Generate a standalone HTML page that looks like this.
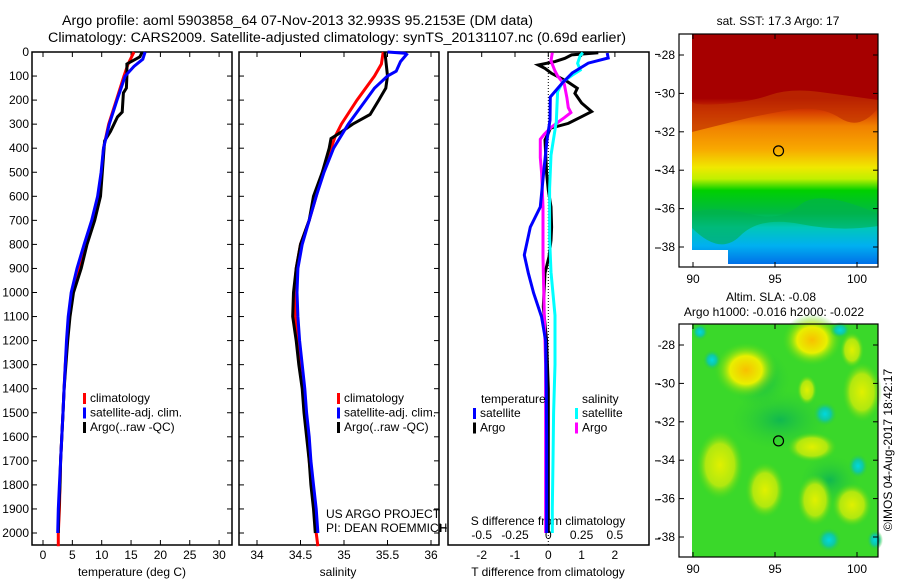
<!DOCTYPE html>
<html><head><meta charset="utf-8">
<style>
body{margin:0;background:#fff;}
svg{display:block;font-family:"Liberation Sans",sans-serif;}
text{font-size:12px;fill:#000;}
</style></head>
<body>
<svg id="chart" width="900" height="580" viewBox="0 0 900 580" xmlns="http://www.w3.org/2000/svg">
<defs>
<linearGradient id="sstGrad" x1="0" y1="34" x2="0" y2="264" gradientUnits="userSpaceOnUse">
<stop offset="0" stop-color="#a60000"/>
<stop offset="0.28" stop-color="#a60000"/>
<stop offset="0.34" stop-color="#d84000"/>
<stop offset="0.40" stop-color="#f08000"/>
<stop offset="0.50" stop-color="#f8a800"/>
<stop offset="0.58" stop-color="#f0e800"/>
<stop offset="0.63" stop-color="#c0f000"/>
<stop offset="0.68" stop-color="#00d000"/>
<stop offset="0.78" stop-color="#00b848"/>
<stop offset="0.84" stop-color="#00c8b8"/>
<stop offset="0.92" stop-color="#00b0f0"/>
<stop offset="1" stop-color="#0070e8"/>
</linearGradient>
<radialGradient id="yel"><stop offset="0" stop-color="#f8c000"/><stop offset="0.5" stop-color="#e8f000"/><stop offset="1" stop-color="#40d820" stop-opacity="0"/></radialGradient>
<radialGradient id="yel2"><stop offset="0" stop-color="#e0f000"/><stop offset="0.6" stop-color="#b0e810"/><stop offset="1" stop-color="#40d820" stop-opacity="0"/></radialGradient>
<radialGradient id="cy"><stop offset="0" stop-color="#00d8e0"/><stop offset="0.5" stop-color="#10c8a0"/><stop offset="1" stop-color="#30d030" stop-opacity="0"/></radialGradient>
<radialGradient id="dg"><stop offset="0" stop-color="#10b850"/><stop offset="1" stop-color="#30d030" stop-opacity="0"/></radialGradient>
</defs>
<g id="titles">
<text x="62" y="25" textLength="471" lengthAdjust="spacingAndGlyphs" style="font-size:13.5px">Argo profile: aoml 5903858_64 07-Nov-2013 32.993S 95.2153E (DM data)</text>
<text x="48" y="42" textLength="578" lengthAdjust="spacingAndGlyphs" style="font-size:13.5px">Climatology: CARS2009. Satellite-adjusted climatology: synTS_20131107.nc (0.69d earlier)</text>
</g>
<g id="p1"></g>
<g id="p2"></g>
<g id="p3"></g>
<g id="m1"></g>
<g id="m2"></g>
<text transform="translate(892,450) rotate(-90)" text-anchor="middle">©IMOS 04-Aug-2017 18:42:17</text>
</svg>
<script>
// ---------- data ----------
const depthTicks = [0,100,200,300,400,500,600,700,800,900,1000,1100,1200,1300,1400,1500,1600,1700,1800,1900,2000];
const tempTicks = [0,5,10,15,20,25,30];
const salTicks = [34,34.5,35,35.5,36];
const tdiffTicks = [-2,-1,0,1,2];
const sdiffTicks = [-0.5,-0.25,0,0.25,0.5];
const sdiffLabels = ["-0.5","-0.25","0","0.25","0.5"];

const tClimDepth = [0,50,100,200,300,400,500,600,700,800,900,1000,1100,1200,1300,1400,1500,1600,1700,1800,1900,2000,2055];
const tClim = [15.5,14.5,13.8,12.5,11.2,10.3,10.0,9.6,8.5,7.2,6.2,5.0,4.5,4.1,3.8,3.6,3.4,3.2,3.0,2.9,2.8,2.6,2.6];
const tSatDepth = [0,30,60,100,200,300,400,500,600,700,800,900,1000,1100,1200,1300,1400,1500,1600,1700,1800,1900,2000];
const tSat = [17.4,17.0,15.5,14.0,12.6,11.3,10.3,9.9,9.3,8.3,7.0,5.8,4.8,4.3,4.0,3.8,3.6,3.4,3.2,3.0,2.8,2.6,2.5];
const tArgoDepth = [0,20,50,100,150,170,250,270,330,370,500,600,700,800,900,1000,1100,1200,1300,1400,1500,1600,1700,1800,1900,2000];
const tArgo = [16.9,16.5,14.3,14.3,14.2,13.7,13.5,12.7,11.5,10.5,10.1,9.8,8.8,7.5,6.5,5.2,4.6,4.2,3.9,3.6,3.4,3.2,3.0,2.9,2.7,2.6];

const sClimDepth = [0,50,100,200,300,350,400,500,600,700,800,900,1000,1100,1200,1300,1400,1500,1600,1700,1800,1900,2000,2055];
const sClim = [35.45,35.43,35.35,35.15,34.97,34.9,34.85,34.75,34.68,34.6,34.5,34.45,34.43,34.44,34.47,34.5,34.53,34.55,34.58,34.6,34.63,34.66,34.68,34.7];
const sSatDepth = [0,5,10,40,80,100,150,200,300,400,500,600,700,800,900,1000,1100,1200,1300,1400,1500,1600,1700,1800,1900,2000];
const sSat = [35.5,35.7,35.72,35.65,35.6,35.5,35.35,35.25,35.05,34.88,34.77,34.68,34.6,34.52,34.47,34.46,34.47,34.49,34.52,34.55,34.57,34.6,34.62,34.65,34.68,34.7];
const sArgoDepth = [0,100,150,200,260,300,330,360,400,500,600,700,800,900,1000,1100,1200,1300,1400,1500,1600,1700,1800,1900,2000];
const sArgo = [35.47,35.5,35.48,35.4,35.3,35.1,34.98,34.85,34.83,34.75,34.65,34.6,34.5,34.45,34.42,34.41,34.45,34.48,34.52,34.54,34.57,34.6,34.62,34.65,34.67];

const dTSatDepth = [4,25,46,87,129,187,283,366,503,644,728,844,919,1002,1102,1200,1400,1600,1800,2000];
const dTSat = [1.77,1.8,1.2,0.72,0.42,0.06,0.05,-0.04,-0.14,-0.24,-0.54,-0.72,-0.6,-0.44,-0.2,-0.08,-0.06,-0.05,-0.05,-0.05];
const dTArgoDepth = [3,12,26,40,54,68,89,123,151,172,212,248,269,297,317,338,366,503,574,644,728,782,851,919,1060,1200,1400,1600,1800,2000];
const dTArgo = [1.5,0.7,0.5,0.2,-0.3,-0.1,0.1,0.57,0.87,0.8,1.0,1.3,1.0,0.6,0.06,0.0,-0.1,-0.05,0.0,0.08,0.1,0.08,0.02,-0.1,-0.15,-0.05,0.0,0.0,0.0,0.0];
const dSSatDepth = [3,14,47,75,96,123,165,290,360,429,568,776,915,1095,1300,1500,1700,1900,2000];
const dSSat = [0.26,0.24,0.22,0.24,0.18,0.11,0.07,0.06,0.04,0.02,0.01,0.01,0.02,0.05,0.05,0.04,0.035,0.03,0.03];
const dSArgoDepth = [3,37,79,100,134,162,190,231,252,273,293,314,342,363,439,503,644,851,1095,1300,1600,2000];
const dSArgo = [0.03,0.02,0.05,0.07,0.12,0.13,0.14,0.15,0.17,0.12,0.07,0.02,-0.03,-0.06,-0.06,-0.05,-0.04,-0.04,-0.03,-0.02,-0.02,-0.02];

const rightTicks = [10,168,330,492,653,815,1380,1538,1700,1862,2025];
const mapLonTicks = [90,95,100];
const mapLatTicks = [-28,-30,-32,-34,-36,-38];
const argoLon = 95.2153, argoLat = -32.993;

// ---------- helpers ----------
const NS="http://www.w3.org/2000/svg";
function mk(tag, attrs, parent, txt){const e=document.createElementNS(NS,tag);for(const k in attrs)e.setAttribute(k,attrs[k]);if(txt!==undefined)e.textContent=txt;parent.appendChild(e);return e;}
const yD = d => 52 + d*0.2405;
const TOP=52, BOT=545;

function frame(g,x0,x1,name){
  const r=mk('rect',{x:x0,y:TOP,width:x1-x0,height:BOT-TOP,fill:'none',stroke:'#000','stroke-width':1.5},g);
  
  
}
function line(g,depths,vals,xf,color,name,w){
  const pts=depths.map((d,i)=>xf(vals[i]).toFixed(1)+','+yD(d).toFixed(1)).join(' ');
  const p=mk('polyline',{points:pts,fill:'none',stroke:color,'stroke-width':w||3,'stroke-linejoin':'miter'},g);
  
  
}
function xTicks(g,ticks,labels,xf,ly,name){
  ticks.forEach((t,i)=>{
    const x=xf(t);
    mk('line',{x1:x,y1:BOT,x2:x,y2:BOT-5,stroke:'#000'},g);
    mk('line',{x1:x,y1:TOP,x2:x,y2:TOP+5,stroke:'#000'},g);
    const tx=mk('text',{x:x,y:ly,'text-anchor':'middle'},g,labels?labels[i]:String(t));
    
    
  });
}
function legend(g,x,y,items){
  items.forEach((it,i)=>{
    mk('rect',{x:x,y:y+i*14.5-9,width:3,height:11,fill:it[0]},g);
    const t=mk('text',{x:x+7,y:y+i*14.5},g,it[1]);
    
    
  });
}

// ---------- panel 1 temperature ----------
const g1=document.getElementById('p1');
const xT=t=>43+t*5.87;
frame(g1,32,232,'temperature-plot-frame');
depthTicks.forEach(d=>{
  mk('line',{x1:32,y1:yD(d),x2:37,y2:yD(d),stroke:'#000'},g1);
  mk('line',{x1:232,y1:yD(d),x2:227,y2:yD(d),stroke:'#000'},g1);
  const t=mk('text',{x:29,y:yD(d)+4,'text-anchor':'end'},g1,String(d));
  
  
});
xTicks(g1,tempTicks,null,xT,559,'temperature');
mk('text',{x:132,y:576,'text-anchor':'middle',},g1,'temperature (deg C)');
line(g1,tClimDepth,tClim,xT,'#ff0000','temp-climatology-line');
line(g1,tArgoDepth,tArgo,xT,'#000000','temp-argo-line');
line(g1,tSatDepth,tSat,xT,'#0000ff','temp-satellite-line');
legend(g1,83,402,[['#ff0000','climatology'],['#0000ff','satellite-adj. clim.'],['#000','Argo(..raw -QC)']]);

// ---------- panel 2 salinity ----------
const g2=document.getElementById('p2');
const xS=s=>257+(s-34)*87;
frame(g2,239,439,'salinity-plot-frame');
depthTicks.forEach(d=>{
  mk('line',{x1:239,y1:yD(d),x2:244,y2:yD(d),stroke:'#000'},g2);
  mk('line',{x1:439,y1:yD(d),x2:434,y2:yD(d),stroke:'#000'},g2);
});
xTicks(g2,salTicks,null,xS,559,'salinity');
mk('text',{x:338,y:576,'text-anchor':'middle',},g2,'salinity');
line(g2,sClimDepth,sClim,xS,'#ff0000','sal-climatology-line');
line(g2,sArgoDepth,sArgo,xS,'#000000','sal-argo-line');
line(g2,sSatDepth,sSat,xS,'#0000ff','sal-satellite-line');
legend(g2,337,402,[['#ff0000','climatology'],['#0000ff','satellite-adj. clim.'],['#000','Argo(..raw -QC)']]);
mk('text',{x:326,y:518,},g2,'US ARGO PROJECT');
mk('text',{x:326,y:532,},g2,'PI: DEAN ROEMMICH');

// ---------- panel 3 differences ----------
const g3=document.getElementById('p3');
const xDT=t=>548.3+t*33.3;
const xDS=s=>548.3+s*133.2;
frame(g3,448,649,'difference-plot-frame');
rightTicks.forEach(d=>{mk('line',{x1:655,y1:yD(d),x2:660,y2:yD(d),stroke:'#000'},g3);});
mk('line',{x1:441,y1:528,x2:447,y2:528,stroke:'#000'},g3);
mk('line',{x1:441,y1:524,x2:441,y2:532,stroke:'#000'},g3);
tdiffTicks.forEach(t=>{mk('line',{x1:xDT(t),y1:TOP,x2:xDT(t),y2:TOP+5,stroke:'#000'},g3);});
tdiffTicks.forEach(t=>{
  const tx=mk('text',{x:xDT(t),y:559,'text-anchor':'middle'},g3,String(t));
  
  
});
sdiffTicks.forEach((s,i)=>{
  const tx=mk('text',{x:xDS(s),y:539,'text-anchor':'middle'},g3,sdiffLabels[i]);
  
  
});
mk('text',{x:548,y:525,'text-anchor':'middle',},g3,'S difference from climatology');
mk('text',{x:548,y:576,'text-anchor':'middle',},g3,'T difference from climatology');
mk('line',{x1:xDT(0),y1:TOP,x2:xDT(0),y2:BOT,stroke:'#000','stroke-dasharray':'1,2',},g3);
line(g3,dTArgoDepth,dTArgo,xDT,'#000000','tdiff-argo-line');
line(g3,dSArgoDepth,dSArgo,xDS,'#ff00ff','sdiff-argo-line');
line(g3,dSSatDepth,dSSat,xDS,'#00ffff','sdiff-satellite-line');
line(g3,dTSatDepth,dTSat,xDT,'#0000ff','tdiff-satellite-line');
mk('text',{x:481,y:403,},g3,'temperature');
mk('text',{x:582,y:403,},g3,'salinity');
legend(g3,473,417,[['#0000ff','satellite'],['#000','Argo']]);
legend(g3,575,417,[['#00ffff','satellite'],['#ff00ff','Argo']]);

// ---------- maps ----------
function mapAxes(g,yOff,name){
  const lx=l=>693+(l-90)*16.4, ly=a=>yOff+55+(-28-a)*19.2;
  mk('rect',{x:679,y:yOff+34,width:199,height:233,fill:'none',stroke:'#000','stroke-width':1.2,},g);
  mapLonTicks.forEach(l=>{
    mk('line',{x1:lx(l),y1:yOff+267,x2:lx(l),y2:yOff+262,stroke:'#000'},g);
    mk('line',{x1:lx(l),y1:yOff+34,x2:lx(l),y2:yOff+39,stroke:'#000'},g);
    const t=mk('text',{x:lx(l),y:yOff+283,'text-anchor':'middle'},g,String(l));
    
    
  });
  mapLatTicks.forEach(a=>{
    mk('line',{x1:679,y1:ly(a),x2:684,y2:ly(a),stroke:'#000'},g);
    mk('line',{x1:878,y1:ly(a),x2:873,y2:ly(a),stroke:'#000'},g);
    const t=mk('text',{x:675,y:ly(a)+4,'text-anchor':'end'},g,String(a));
    
    
  });
  mk('circle',{cx:lx(argoLon),cy:ly(argoLat),r:5,fill:'none',stroke:'#000','stroke-width':1.2,},g);
}
const m1=document.getElementById('m1');
mk('text',{x:778,y:25,'text-anchor':'middle',},m1,'sat. SST: 17.3 Argo: 17');
mk('rect',{x:692,y:34,width:186,height:230,fill:'url(#sstGrad)'},m1);
mk('path',{d:'M692,132 Q720,125 740,120 T790,110 T840,118 T878,108 L878,100 Q850,96 820,92 T770,95 T720,104 T692,100 Z',fill:'#c03000',opacity:0.7},m1);
mk('path',{d:'M692,212 Q720,206 750,214 T800,205 T878,214 L878,226 Q840,232 800,224 T740,236 T692,228 Z',fill:'#00b050',opacity:0.6},m1);
mk('rect',{x:692,y:250,width:36,height:14,fill:'#fff'},m1);
mk('rect',{x:692,y:258,width:18,height:9,fill:'#fff'},m1);
mapAxes(m1,0,'sst-map');

const m2=document.getElementById('m2');
mk('text',{x:771,y:301,'text-anchor':'middle',},m2,'Altim. SLA: -0.08');
mk('text',{x:774,y:316,'text-anchor':'middle',},m2,'Argo h1000: -0.016 h2000: -0.022');
mk('rect',{x:692,y:324,width:186,height:233,fill:'#3ad82a'},m2);
[[780,420,50,30],[760,380,30,30],[830,480,30,25]].forEach(e=>mk('ellipse',{cx:e[0],cy:e[1],rx:e[2],ry:e[3],fill:'url(#dg)'},m2));
[[746,370,32,28,'yel'],[812,340,30,26,'yel'],[862,392,20,30,'yel2'],[812,447,25,15,'yel2'],[720,465,24,35,'yel2'],[765,490,20,28,'yel2'],[815,500,18,26,'yel2'],[852,505,20,22,'yel2'],[807,390,10,15,'yel2'],[852,350,12,18,'yel2']].forEach(e=>mk('ellipse',{cx:e[0],cy:e[1],rx:e[2],ry:e[3],fill:'url('+'#'+e[4]+')'},m2));
[[825,414,12,12],[712,360,9,10],[858,466,10,12],[829,540,12,12],[700,332,8,8],[840,330,10,8],[875,540,8,10]].forEach(e=>mk('ellipse',{cx:e[0],cy:e[1],rx:e[2],ry:e[3],fill:'url(#cy)'},m2));
mapAxes(m2,290,'sla-map');
</script>
</body></html>
